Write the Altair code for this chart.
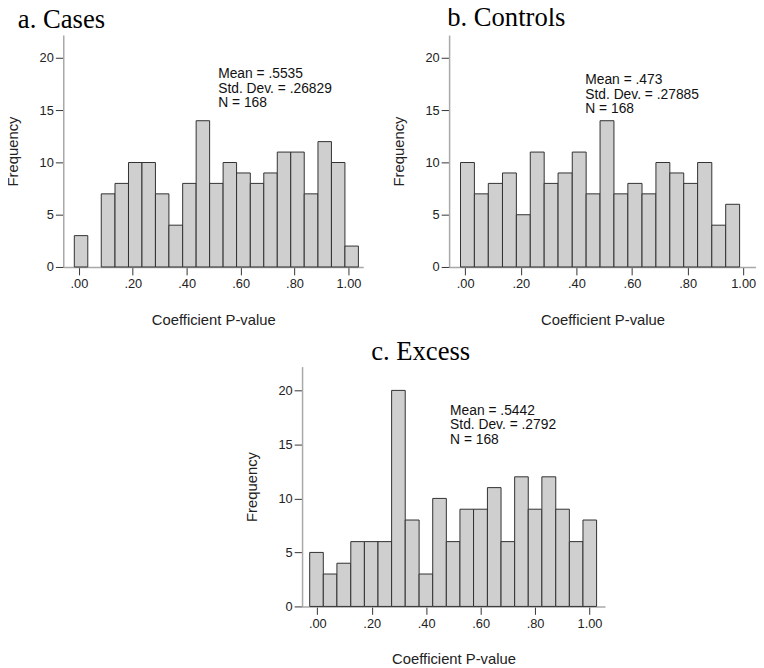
import altair as alt
import pandas as pd

# ---- data ----
EDGES_AB = [-0.017, 0.033, 0.083, 0.134, 0.184, 0.234, 0.284, 0.334, 0.385, 0.435, 0.485,
            0.535, 0.585, 0.636, 0.686, 0.736, 0.786, 0.836, 0.887, 0.937, 0.987, 1.037]
EDGES_C = [-0.028, 0.022, 0.072, 0.123, 0.173, 0.223, 0.273, 0.323, 0.374, 0.424, 0.474,
           0.524, 0.574, 0.625, 0.675, 0.725, 0.775, 0.825, 0.876, 0.926, 0.976, 1.026]
CASES = [3, 0, 7, 8, 10, 10, 7, 4, 8, 14, 8, 10, 9, 8, 9, 11, 11, 7, 12, 10, 2]
CONTROLS = [10, 7, 8, 9, 5, 11, 8, 9, 11, 7, 14, 7, 8, 7, 10, 9, 8, 10, 4, 6, 0]
EXCESS = [5, 3, 4, 6, 6, 6, 20, 8, 3, 10, 6, 9, 9, 11, 6, 12, 9, 12, 9, 6, 8]
TITLES = ["a. Cases", "b. Controls", "c. Excess"]
STATS_A = ["Mean = .5535", "Std. Dev. = .26829", "N = 168"]
STATS_B = ["Mean = .473", "Std. Dev. = .27885", "N = 168"]
STATS_C = ["Mean = .5442", "Std. Dev. = .2792", "N = 168"]
X_TICKS = [0, 0.2, 0.4, 0.6, 0.8, 1.0]
Y_TICKS = [0, 5, 10, 15, 20]
X_TITLE = "Coefficient P-value"
Y_TITLE = "Frequency"

SANS = "Liberation Sans"
SERIF = "Liberation Serif"


def frame(counts, edges):
    df = pd.DataFrame({"x0": edges[:-1], "x1": edges[1:], "count": counts})
    return df[df["count"] > 0]


def panel(counts, edges, title, stats, xdom, w, h, tdx, toff, sx, sy):
    df = frame(counts, edges)
    xs = alt.Scale(domain=xdom, nice=False, zero=False)
    ys = alt.Scale(domain=[0, 22.2], nice=False, zero=True)
    bars = alt.Chart(df).mark_rect(fill="#cfcfcf", stroke="#303030", strokeWidth=1).encode(
        x=alt.X("x0:Q", scale=xs,
                axis=alt.Axis(values=X_TICKS, title=X_TITLE, grid=False, labelFlush=False,
                              labelExpr="replace(format(datum.value, '.2f'), '0.', '.')")),
        x2="x1:Q",
        y=alt.Y("count:Q", scale=ys,
                axis=alt.Axis(values=Y_TICKS, title=Y_TITLE, grid=False, format="d")),
        y2=alt.datum(0),
    )
    layers = [bars]
    for i, line in enumerate(stats):
        layers.append(
            alt.Chart(pd.DataFrame({"t": [line]})).mark_text(
                align="left", baseline="alphabetic", font=SANS, fontSize=14, color="#111"
            ).encode(x=alt.value(sx), y=alt.value(sy + i * 14.5), text="t:N")
        )
    return alt.layer(*layers).properties(
        width=w, height=h,
        title=alt.TitleParams(title, anchor="start", frame="group", dx=tdx, offset=toff,
                              fontSize=27, font=SERIF, fontWeight="normal", color="black",
                              baseline="alphabetic"),
    )


pa = panel(CASES, EDGES_AB, TITLES[0], STATS_A, [-0.058, 1.055], 304, 235, -46, -20, 157, 44)
pb = panel(CONTROLS, EDGES_AB, TITLES[1], STATS_B, [-0.058, 1.046], 311, 235, -2, -18, 138, 50)
pc = panel(EXCESS, EDGES_C, TITLES[2], STATS_C, [-0.056, 1.057], 307, 243, 70, -20, 150, 49)

spacer = alt.Chart(pd.DataFrame({"v": [0]})).mark_point(opacity=0, size=1).encode(
    x=alt.value(5), y=alt.value(5)
).properties(width=183, height=10)

row1 = alt.hconcat(pa, pb, spacing=87, bounds="flush")
row2 = alt.hconcat(spacer, pc, spacing=0)

chart = alt.vconcat(row1, row2, spacing=11).properties(
    padding={"left": -3, "top": -8, "right": 0, "bottom": 0}
).configure_view(stroke=None).configure_axis(
    domainColor="#a8a8a8", domainWidth=1.5, tickColor="#333333", tickSize=8, tickWidth=1,
    labelFont=SANS, labelFontSize=13, labelColor="#222222",
    titleFont=SANS, titleFontSize=15, titleFontWeight="normal", titleColor="#222222",
).configure_axisY(labelPadding=2, titlePadding=19).configure_axisX(labelPadding=3, titlePadding=22)

chart.save("out.html", embed_options={"renderer": "svg", "actions": False})
